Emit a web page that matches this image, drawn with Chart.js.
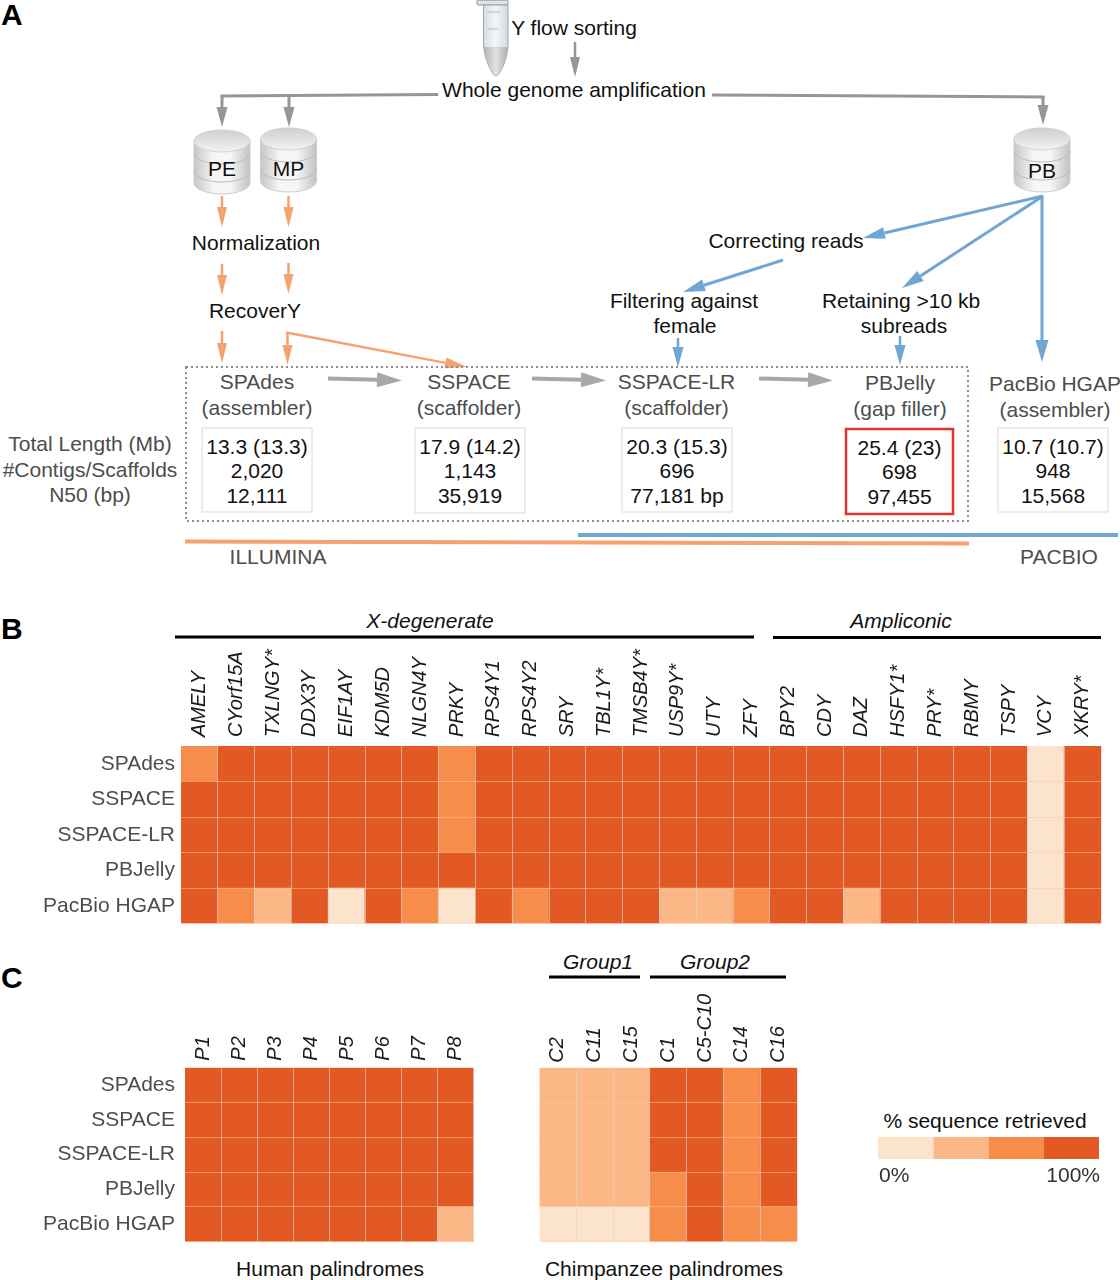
<!DOCTYPE html>
<html>
<head>
<meta charset="utf-8">
<title>Y assembly workflow</title>
<script src="https://cdn.jsdelivr.net/npm/chart.js@4"></script>
<style>
    html, body { margin: 0; padding: 0; background: #fff; }
    #page { position: relative; width: 1120px; height: 1280px; overflow: hidden; }
    #page canvas, #page svg { position: absolute; }
    text { font-family: "Liberation Sans", Arial, sans-serif; }
</style>
</head>
<body>
<div id="page">
    <svg id="diagram" width="1120" height="1280" style="left:0;top:0"></svg>
    <canvas id="genes" width="1120" height="290" style="left:0;top:640px"></canvas>
    <canvas id="human" width="480" height="246" style="left:0;top:1000px"></canvas>
    <canvas id="chimp" width="272" height="262" style="left:530px;top:985px"></canvas>
    <canvas id="scale" width="260" height="70" style="left:860px;top:1120px"></canvas>
</div>
<script>
// ==========================================
// Data
// ==========================================
const assemblers = ['SPAdes', 'SSPACE', 'SSPACE-LR', 'PBJelly', 'PacBio HGAP'];

const geneNames = ['AMELY', 'CYorf15A', 'TXLNGY*', 'DDX3Y', 'EIF1AY', 'KDM5D', 'NLGN4Y', 'PRKY', 'RPS4Y1', 'RPS4Y2',
    'SRY', 'TBL1Y*', 'TMSB4Y*', 'USP9Y*', 'UTY', 'ZFY', 'BPY2', 'CDY', 'DAZ', 'HSFY1*', 'PRY*', 'RBMY', 'TSPY', 'VCY', 'XKRY*'];
const humanNames = ['P1', 'P2', 'P3', 'P4', 'P5', 'P6', 'P7', 'P8'];
const chimpNames = ['C2', 'C11', 'C15', 'C1', 'C5-C10', 'C14', 'C16'];

// retrieved class per cell: 0 lowest ... 3 highest
const genesSpades = [2,3,3,3,3,3,3,2,3,3,3,3,3,3,3,3,3,3,3,3,3,3,3,0,3];
const genesSspace = [3,3,3,3,3,3,3,2,3,3,3,3,3,3,3,3,3,3,3,3,3,3,3,0,3];
const genesSspaceLr = [3,3,3,3,3,3,3,2,3,3,3,3,3,3,3,3,3,3,3,3,3,3,3,0,3];
const genesPbjelly = [3,3,3,3,3,3,3,3,3,3,3,3,3,3,3,3,3,3,3,3,3,3,3,0,3];
const genesHgap = [3,2,1,3,0,3,2,0,3,2,3,3,3,1,1,2,3,3,1,3,3,3,3,0,3];

const humanSpades = [3,3,3,3,3,3,3,3];
const humanSspace = [3,3,3,3,3,3,3,3];
const humanSspaceLr = [3,3,3,3,3,3,3,3];
const humanPbjelly = [3,3,3,3,3,3,3,3];
const humanHgap = [3,3,3,3,3,3,3,1];

const chimpSpades = [1,1,1,3,3,2,3];
const chimpSspace = [1,1,1,3,3,2,3];
const chimpSspaceLr = [1,1,1,3,3,2,3];
const chimpPbjelly = [1,1,1,2,3,2,3];
const chimpHgap = [0,0,0,2,3,2,2];

const scaleSteps = [25, 25, 25, 25];
const scaleTicks = [0, 100];
const classColors = ['#FCE3CC', '#FBB886', '#F68D4B', '#E35924'];

// assembly stats boxes: total length, contigs, N50
const statsSpades = ['13.3 (13.3)', '2,020', '12,111'];
const statsSspace = ['17.9 (14.2)', '1,143', '35,919'];
const statsSspaceLr = ['20.3 (15.3)', '696', '77,181 bp'];
const statsPbjelly = ['25.4 (23)', '698', '97,455'];
const statsHgap = ['10.7 (10.7)', '948', '15,568'];

const FONT = '"Liberation Sans", Arial, sans-serif';
const GREY_TEXT = '#4d4d4d';
const ORANGE = '#F4A26F';
const BLUE = '#6FA6D4';
const GREY = '#969696';

// ==========================================
// Heatmaps (stacked bars, one dataset per row)
// ==========================================
function heatmap(id, columns, rows, box) {
    // y stacks from the bottom, so the last row goes first
    const datasets = rows.slice().reverse().map(levels => ({
        data: levels.map(() => 1),
        backgroundColor: levels.map(l => classColors[l]),
        borderWidth: 0,
        barPercentage: 1,
        categoryPercentage: 1
    }));

    new Chart(document.getElementById(id), {
        type: 'bar',
        data: { labels: columns, datasets: datasets },
        options: {
            responsive: false,
            animation: false,
            events: [],
            layout: { autoPadding: false, padding: { left: 0, top: 0, right: box.right, bottom: box.bottom } },
            plugins: { legend: { display: false }, tooltip: { enabled: false } },
            scales: {
                x: {
                    position: 'top',
                    stacked: true,
                    afterFit: s => { s.height = box.top; s.paddingLeft = 0; s.paddingRight = 0; },
                    border: { display: false },
                    grid: {
                        z: 1,
                        drawTicks: false,
                        color: c => (c.index === 0 || c.index === columns.length) ? 'transparent' : 'rgba(214,214,214,0.62)'
                    },
                    ticks: {
                        autoSkip: false,
                        minRotation: 90,
                        maxRotation: 90,
                        padding: box.tickGap,
                        labelOffset: 24,
                        color: '#1a1a1a',
                        font: { family: FONT, size: 20, style: 'italic' }
                    }
                },
                y: { display: false, stacked: true, min: 0, max: rows.length },
                rows: {
                    type: 'category',
                    axis: 'y',
                    position: 'left',
                    labels: assemblers,
                    offset: true,
                    afterFit: s => { s.width = box.left; s.paddingTop = 0; s.paddingBottom = 0; },
                    border: { display: false },
                    grid: {
                        z: 1,
                        offset: true,
                        drawTicks: false,
                        color: c => (c.index === 0 || c.index === rows.length) ? 'transparent' : 'rgba(255,196,160,0.5)'
                    },
                    ticks: {
                        display: box.labels,
                        padding: box.labelGap,
                        color: GREY_TEXT,
                        font: { family: FONT, size: 21 }
                    }
                }
            }
        }
    });
}

heatmap('genes', geneNames, [genesSpades, genesSspace, genesSspaceLr, genesPbjelly, genesHgap],
    { left: 181, top: 106, right: 19, bottom: 6.5, labels: true, labelGap: 6, tickGap: 9 });
heatmap('human', humanNames, [humanSpades, humanSspace, humanSspaceLr, humanPbjelly, humanHgap],
    { left: 185, top: 67.7, right: 6.3, bottom: 4.3, labels: true, labelGap: 10, tickGap: 7 });
heatmap('chimp', chimpNames, [chimpSpades, chimpSspace, chimpSspaceLr, chimpPbjelly, chimpHgap],
    { left: 9.5, top: 82.7, right: 5, bottom: 5.3, labels: false, labelGap: 0, tickGap: 5 });

// ==========================================
// Colour scale
// ==========================================
new Chart(document.getElementById('scale'), {
    type: 'bar',
    data: {
        labels: [''],
        datasets: scaleSteps.map((v, i) => ({
            data: [v],
            backgroundColor: classColors[i],
            borderWidth: 0,
            barPercentage: 1,
            categoryPercentage: 1
        }))
    },
    options: {
        indexAxis: 'y',
        responsive: false,
        animation: false,
        events: [],
        layout: { autoPadding: false, padding: { left: 18, top: 17, right: 21, bottom: 0 } },
        plugins: { legend: { display: false }, tooltip: { enabled: false } },
        scales: {
            x: {
                stacked: true,
                min: 0,
                max: 100,
                afterFit: s => { s.height = 31; },
                afterBuildTicks: s => { s.ticks = scaleTicks.map(v => ({ value: v })); },
                border: { display: false },
                grid: { display: false, drawTicks: false },
                ticks: {
                    align: 'inner',
                    padding: 5,
                    labelOffset: 1,
                    color: '#333',
                    callback: v => v + '%',
                    font: { family: FONT, size: 21 }
                }
            },
            y: { stacked: true, display: false }
        }
    }
});

// ==========================================
// Workflow diagram (panel A) and captions
// ==========================================
const svg = document.getElementById('diagram');
const NS = 'http://www.w3.org/2000/svg';

function el(name, attrs, parent) {
    const n = document.createElementNS(NS, name);
    for (const k in attrs) n.setAttribute(k, attrs[k]);
    (parent || svg).appendChild(n);
    return n;
}

function label(x, y, str, color, extra) {
    const t = el('text', Object.assign({
        x: x, y: y - 1, 'text-anchor': 'middle', 'dominant-baseline': 'central',
        'font-size': 21, fill: color || '#111'
    }, extra || {}));
    t.textContent = str;
    return t;
}

function arrow(x1, y1, x2, y2, color, width, headLen, headWide) {
    const len = Math.hypot(x2 - x1, y2 - y1);
    const ux = (x2 - x1) / len, uy = (y2 - y1) / len;
    const bx = x2 - ux * headLen, by = y2 - uy * headLen;
    el('line', { x1: x1, y1: y1, x2: bx, y2: by, stroke: color, 'stroke-width': width });
    const pts = [[x2, y2], [bx - uy * headWide / 2, by + ux * headWide / 2], [bx + uy * headWide / 2, by - ux * headWide / 2]];
    el('polygon', { points: pts.map(p => p.join(',')).join(' '), fill: color });
}

function line(x1, y1, x2, y2, color, width) {
    el('line', { x1: x1, y1: y1, x2: x2, y2: y2, stroke: color, 'stroke-width': width });
}

const defs = el('defs', {});
function gradient(id, horizontal, stops) {
    const g = el('linearGradient', { id: id, x1: 0, y1: 0, x2: horizontal ? 1 : 0, y2: horizontal ? 0 : 1 }, defs);
    stops.forEach(s => el('stop', { offset: s[0], 'stop-color': s[1] }, g));
}
gradient('cylSide', true, [[0, '#c6c6c6'], [0.35, '#f6f6f6'], [0.65, '#f6f6f6'], [1, '#c2c2c2']]);
gradient('cylTop', false, [[0, '#cfcfcf'], [1, '#f3f3f3']]);
gradient('tubeBody', true, [[0, '#d5dfe4'], [0.5, '#f3f6f7'], [1, '#cfdae0']]);
gradient('tubeLiquid', true, [[0, '#b2b2b2'], [0.5, '#e2e2e2'], [1, '#aeaeae']]);

function cylinder(cx, top, name, nameY) {
    const w = 28, h = 64, ry = 11;
    const path = `M${cx - w},${top + ry} V${top + h - ry} A${w},${ry} 0 0 0 ${cx + w},${top + h - ry} V${top + ry} Z`;
    el('path', { d: path, fill: 'url(#cylSide)', stroke: '#cfcfcf', 'stroke-width': 1 });
    [23, 41].forEach(dy => {
        el('path', {
            d: `M${cx - w},${top + dy} A${w},${ry} 0 0 0 ${cx + w},${top + dy}`,
            fill: 'none', stroke: '#bcbcbc', 'stroke-width': 1
        });
    });
    el('ellipse', { cx: cx, cy: top + ry, rx: w, ry: ry, fill: 'url(#cylTop)', stroke: '#d2d2d2', 'stroke-width': 1 });
    label(cx, nameY, name);
}

// tube
el('rect', { x: 477, y: 0, width: 31, height: 5, rx: 1.5, fill: '#dfe5e8', stroke: '#7b8a92', 'stroke-width': 1 });
el('path', { d: 'M483.5,5 H508 V46 C507,60 502,70 498,75 Q496,77 494,75 C490,70 485,60 483.5,46 Z', fill: 'url(#tubeBody)', stroke: '#9aa7ae', 'stroke-width': 1 });
el('path', { d: 'M484,47 H507.5 C506.5,60 502,69 498,74.5 Q496,76.5 494,74.5 C490,69 485,60 484,47 Z', fill: 'url(#tubeLiquid)' });
line(487, 12, 500, 12, '#b3bec4', 1);
line(487, 29, 498, 29, '#b3bec4', 1);

label(574, 28, 'Y flow sorting');
label(574, 90, 'Whole genome amplification');
arrow(575, 42, 575, 77, GREY, 2.5, 20, 10);

// grey branches
line(438, 94.5, 220.7, 96, GREY, 3);
arrow(222, 95, 222, 127, GREY, 3, 20, 11);
arrow(289, 95, 289, 127, GREY, 3, 20, 11);
line(712, 95, 1044.5, 97, GREY, 3);
arrow(1043, 96, 1043, 125, GREY, 3, 20, 11);

cylinder(222, 130, 'PE', 169);
cylinder(288.5, 128, 'MP', 169);
cylinder(1042, 128, 'PB', 171);

// illumina side
arrow(222, 196, 222, 227, ORANGE, 2.5, 20, 10);
arrow(288.5, 196, 288.5, 227, ORANGE, 2.5, 20, 10);
label(256, 243, 'Normalization');
arrow(222, 264, 222, 295, ORANGE, 2.5, 20, 10);
arrow(288.5, 263, 288.5, 294, ORANGE, 2.5, 20, 10);
label(255, 311, 'RecoverY');
arrow(222, 331, 222, 363, ORANGE, 2.5, 20, 10);
arrow(287.5, 332, 287.5, 365, ORANGE, 2.5, 20, 10);
arrow(286.5, 332.5, 467, 367, ORANGE, 2.5, 22, 11);

// pacbio side
arrow(1043, 196, 863, 238, BLUE, 3, 22, 12);
arrow(1043, 196, 902, 288, BLUE, 3, 22, 12);
arrow(1042, 196, 1042, 362, BLUE, 3, 22, 13);
arrow(783, 260, 683, 292, BLUE, 3, 22, 12);
arrow(678, 338, 678, 367, BLUE, 2.5, 20, 11);
arrow(900, 336, 900, 365, BLUE, 2.5, 20, 11);
label(786, 241, 'Correcting reads');
label(684, 301, 'Filtering against');
label(685, 326, 'female');
label(901, 301, 'Retaining >10 kb');
label(904, 326, 'subreads');

// pipeline frame
el('rect', { x: 186, y: 367, width: 782, height: 154, fill: 'none', stroke: '#8c8c8c', 'stroke-width': 2, 'stroke-dasharray': '2 3' });
arrow(328, 378.5, 402, 380.5, '#a8a8a8', 4, 25, 15);
arrow(532, 378.5, 606, 380.5, '#a8a8a8', 4, 25, 15);
arrow(759, 378.5, 833, 380.5, '#a8a8a8', 4, 25, 15);

function stage(cx, yName, name, role, boxX, boxY, boxW, boxH, stats, boxColor, boxWidth) {
    label(cx, yName, name, GREY_TEXT);
    label(cx, yName + 26, role, GREY_TEXT);
    el('rect', { x: boxX, y: boxY, width: boxW, height: boxH, fill: '#fff', stroke: boxColor, 'stroke-width': boxWidth });
    stats.forEach((s, i) => label(boxX + boxW / 2, boxY + 19 + i * 24.7, s));
}
stage(257, 382, 'SPAdes', '(assembler)', 202, 428, 110, 84, statsSpades, '#d9d9d9', 1);
stage(469, 382, 'SSPACE', '(scaffolder)', 415, 428, 110, 85, statsSspace, '#d9d9d9', 1);
stage(676.5, 382, 'SSPACE-LR', '(scaffolder)', 622, 428, 110, 84, statsSspaceLr, '#d9d9d9', 1);
stage(900, 383, 'PBJelly', '(gap filler)', 846, 429, 107, 85, statsPbjelly, '#E2332B', 2.5);
stage(1055, 384, 'PacBio HGAP', '(assembler)', 998, 428, 110, 84, statsHgap, '#d9d9d9', 1);

label(90, 444, 'Total Length (Mb)', GREY_TEXT);
label(90, 470, '#Contigs/Scaffolds', GREY_TEXT);
label(90, 495, 'N50 (bp)', GREY_TEXT);

line(185, 541.5, 969, 543.5, ORANGE, 4);
line(578, 535, 1118, 535, BLUE, 4);
label(278, 557, 'ILLUMINA', GREY_TEXT);
label(1059, 557, 'PACBIO', GREY_TEXT);

// panel letters
const letter = { 'font-size': 30, 'font-weight': 'bold', 'text-anchor': 'start', fill: '#000' };
label(1, 15, 'A', '#000', letter);
label(1, 629, 'B', '#000', letter);
label(1, 978, 'C', '#000', letter);

// group headers
const italic = { 'font-style': 'italic' };
label(430, 621, 'X-degenerate', '#111', italic);
line(175, 637, 754, 637, '#000', 3);
label(901, 621, 'Ampliconic', '#111', italic);
line(773, 637.5, 1101, 637.5, '#000', 3);
label(598, 962, 'Group1', '#111', italic);
line(549, 977, 640, 977, '#000', 3);
label(715, 962, 'Group2', '#111', italic);
line(650, 977, 786, 977, '#000', 3);

label(330, 1269, 'Human palindromes', '#111');
label(664, 1269, 'Chimpanzee palindromes', '#111');
label(985, 1121, '% sequence retrieved', '#111');
</script>
</body>
</html>
